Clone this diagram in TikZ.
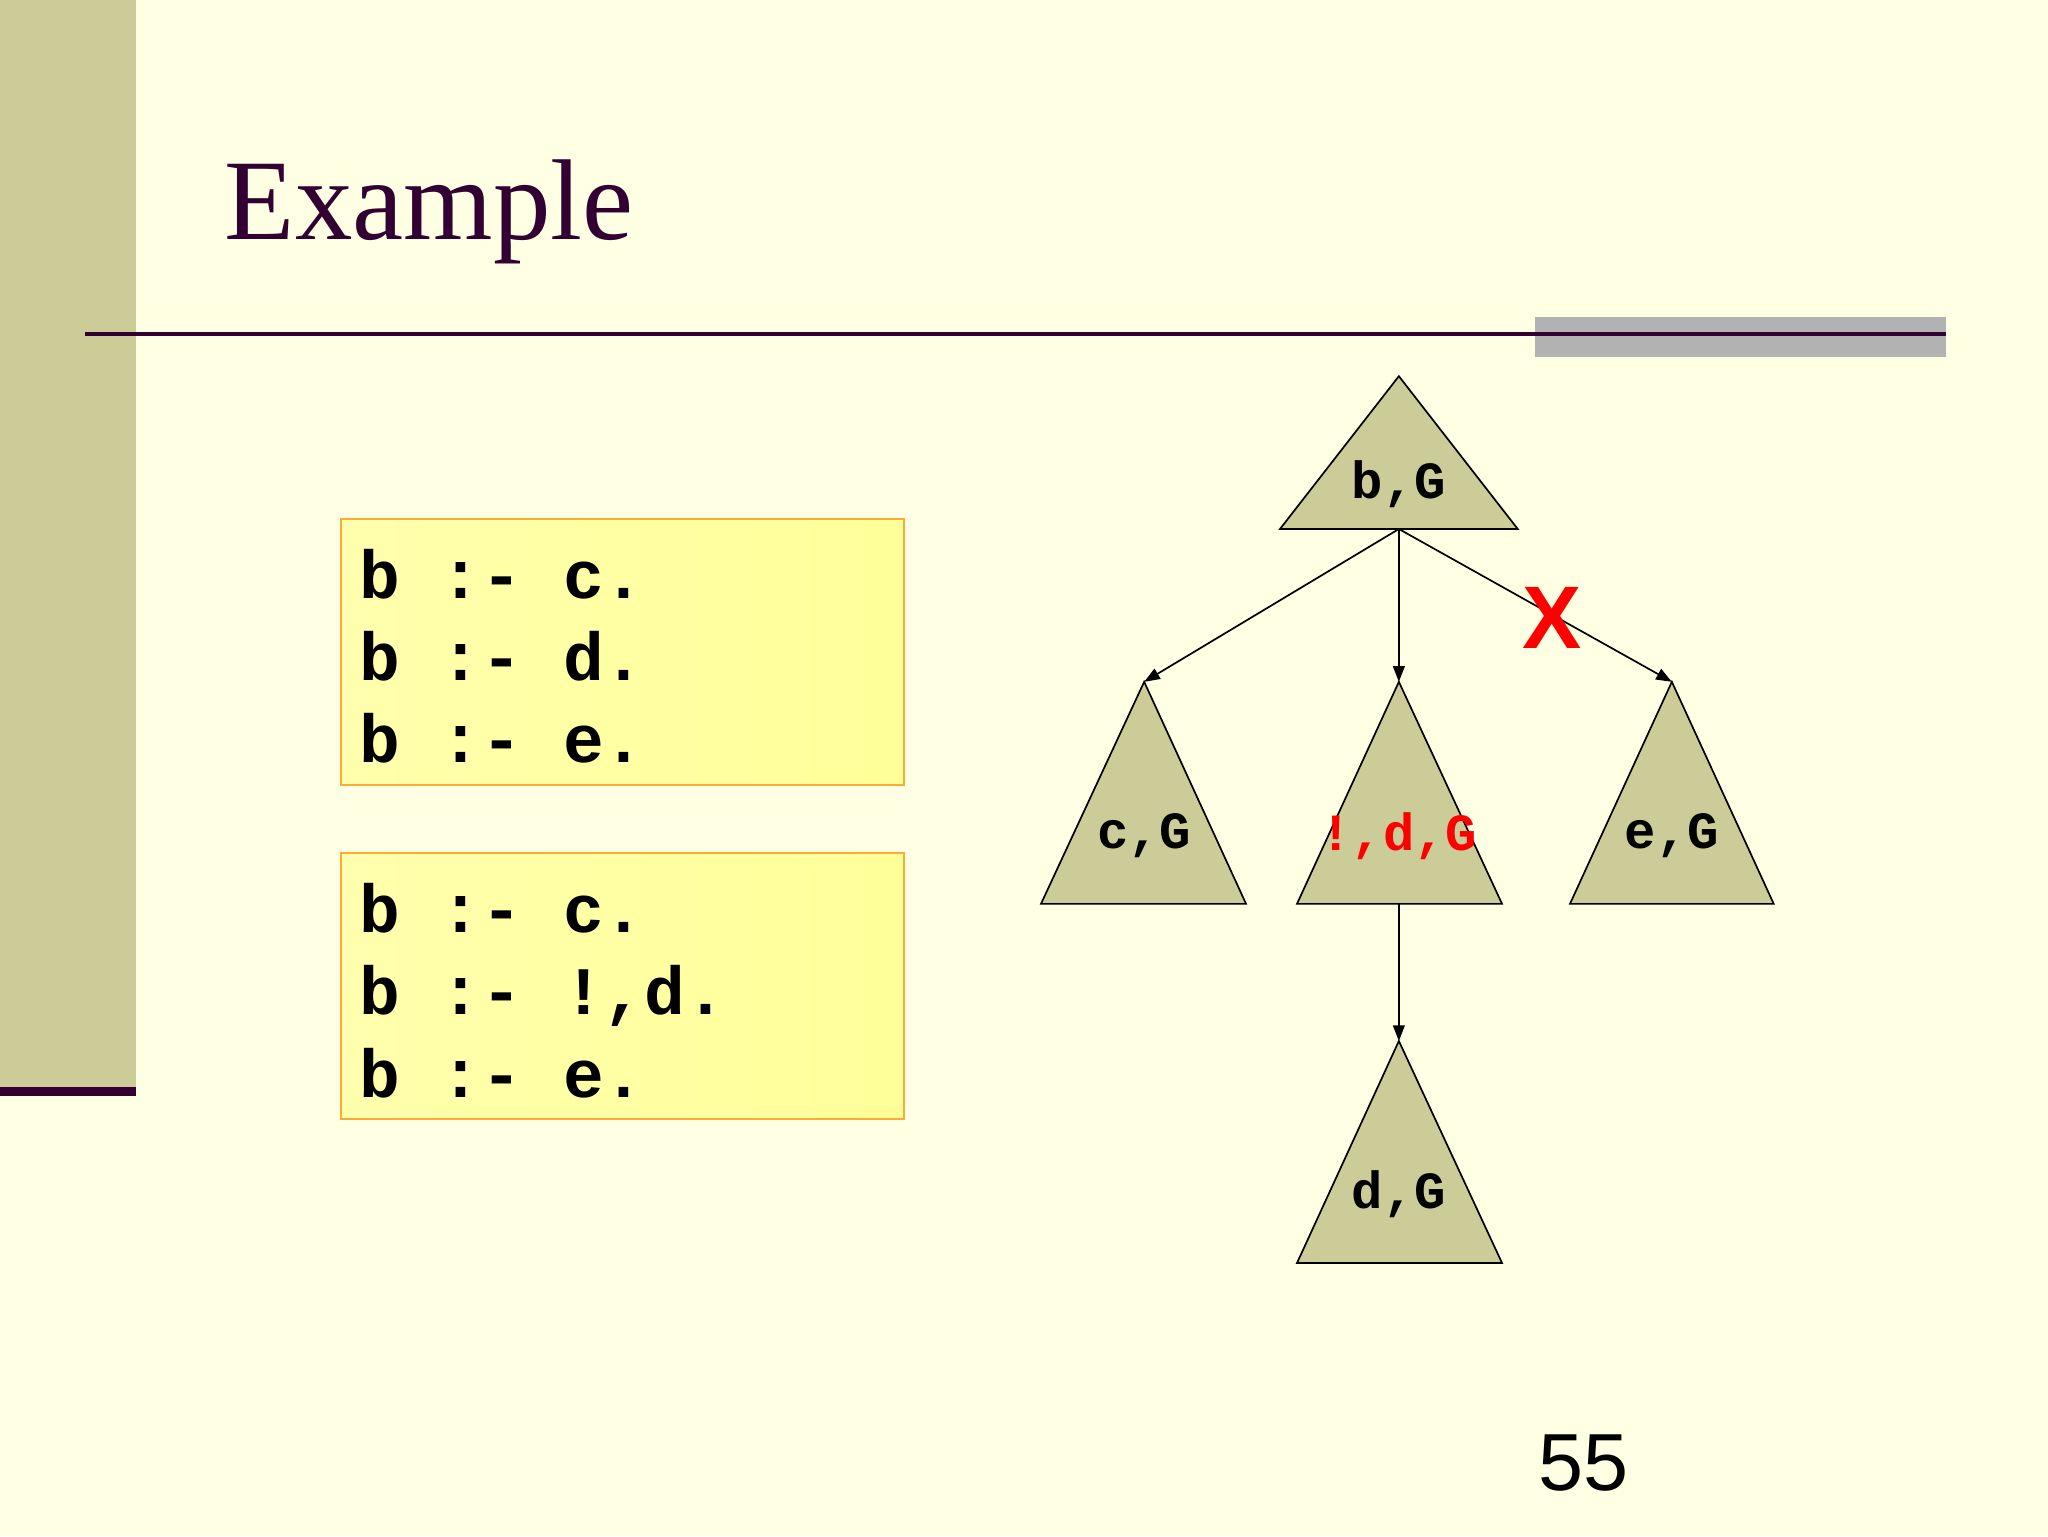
\documentclass[tikz,border=0pt]{standalone}
\usepackage{fontspec}
\setmainfont{Liberation Serif}
\newfontfamily\mono{Liberation Mono}
\newfontfamily\sans{Liberation Sans}
\usetikzlibrary{arrows.meta}
\definecolor{bg}{RGB}{255,255,228}
\definecolor{bar}{RGB}{204,204,153}
\definecolor{dpurple}{RGB}{51,0,51}
\definecolor{tri}{RGB}{204,204,153}
\definecolor{boxy}{RGB}{255,255,153}
\definecolor{boxo}{RGB}{255,170,51}
\tikzset{
 codebox/.style={draw=boxo,line width=1.5pt,left color=boxy!80!white,right color=boxy},
 codetxt/.style={anchor=north west,align=left,font=\mono\bfseries\fontsize{52}{63}\selectfont,inner sep=0pt},
 tribox/.style={fill=tri,draw=black,line width=1.3pt},
 trilabel/.style={font=\mono\bfseries\fontsize{40}{40}\selectfont,inner sep=0pt},
 arr/.style={line width=1.3pt,-{Triangle[length=12pt,width=9pt]}}
}
\begin{document}
\begin{tikzpicture}[x=1pt,y=-1pt]
\useasboundingbox (0,0) rectangle (1568,1176);
\fill[bg] (0,0) rectangle (1568,1176);
\fill[bar] (0,0) rectangle (104,835);
\fill[dpurple] (0,832) rectangle (104,839);
\node[anchor=base west,text=dpurple,font=\fontsize{88}{88}\selectfont,inner sep=0pt] (title) at (172,183) {Example};
\fill[gray!60] (1175,243) rectangle (1490,273);
\draw[dpurple,line width=3pt] (65,256) -- (1490,256);
% code boxes
\draw[codebox] (261,397) rectangle (692,601);
\node[codetxt] (c1) at (275,420) {b :- c.\\b :- d.\\b :- e.};
\draw[codebox] (261,653) rectangle (692,857);
\node[codetxt] (c2) at (275,676) {b :- c.\\b :- !,d.\\b :- e.};
% triangles
\coordinate (aT) at (1071,288); \coordinate (bT) at (1071,405);
\coordinate (aC) at (876,522); \coordinate (aM) at (1071,522);
\coordinate (aE) at (1280,522); \coordinate (bM) at (1071,692);
\coordinate (aD) at (1071,797);
\draw[tribox] (1071,288) -- (1162,405) -- (980,405) -- cycle;
\draw[tribox] (876,522) -- (954,692) -- (797,692) -- cycle;
\draw[tribox] (1071,522) -- (1150,692) -- (993,692) -- cycle;
\draw[tribox] (1280,522) -- (1358,692) -- (1202,692) -- cycle;
\draw[tribox] (1071,797) -- (1150,967) -- (993,967) -- cycle;
\node[trilabel] (lT) at (1071,371) {b,G};
\node[trilabel] (lC) at (876,640) {c,G};
\node[trilabel,text=red] (lM) at (1071,640) {!,d,G};
\node[trilabel] (lE) at (1280,640) {e,G};
\node[trilabel] (lD) at (1071,914) {d,G};
\draw[arr] (bT) -- (aC);
\draw[arr] (bT) -- (aM);
\draw[arr] (bT) -- (aE);
\draw[arr] (bM) -- (aD);
\node[text=red,font=\sans\bfseries\fontsize{68}{68}\selectfont,inner sep=0pt] (x) at (1188,473) {X};
\node[font=\sans\fontsize{62}{62}\selectfont,inner sep=0pt] (pg) at (1212,1120) {55};
\end{tikzpicture}
\end{document}
